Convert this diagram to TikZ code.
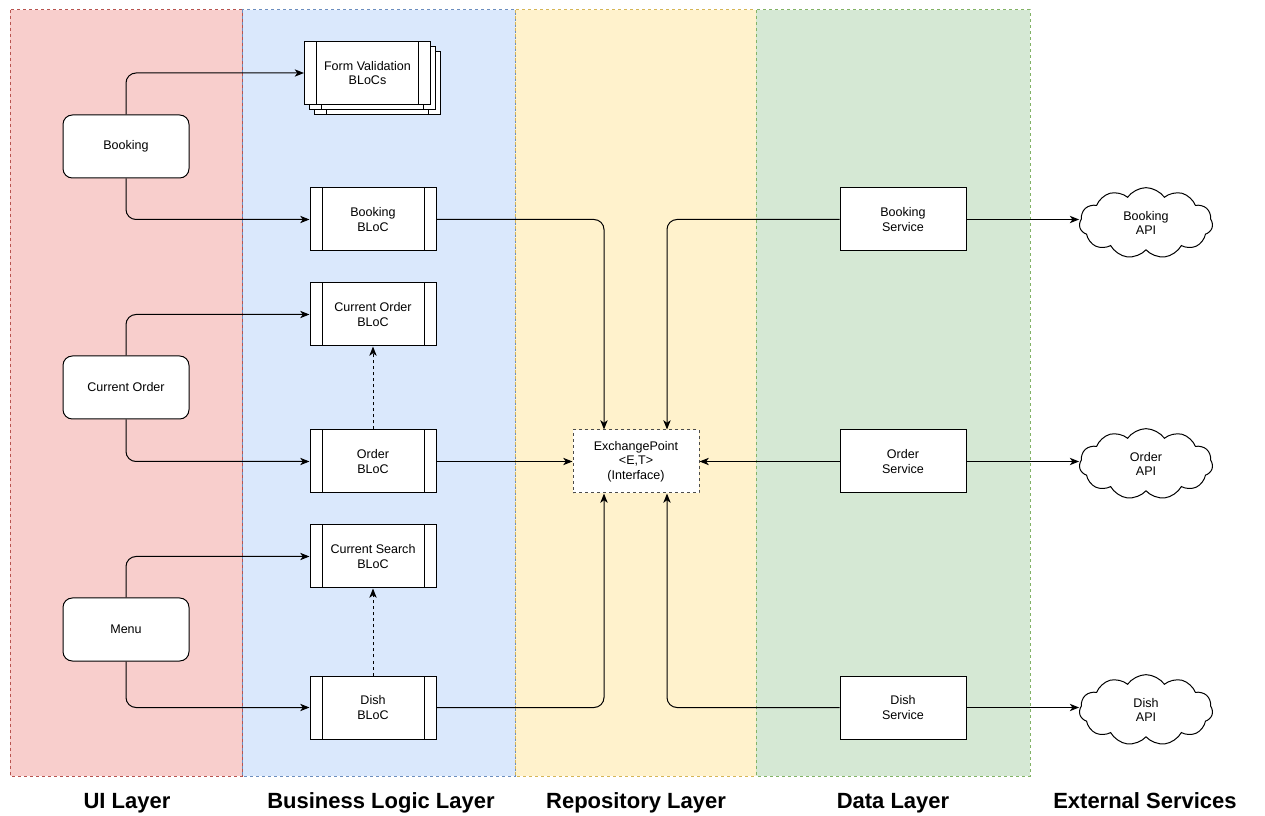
\documentclass[tikz,border=0pt]{standalone}
\usepackage{fontspec}
\setmainfont{Liberation Sans}
\usetikzlibrary{arrows.meta,shapes.symbols}

\definecolor{uifill}{HTML}{F8CECC}
\definecolor{uiline}{HTML}{B85450}
\definecolor{blfill}{HTML}{DAE8FC}
\definecolor{blline}{HTML}{6C8EBF}
\definecolor{repofill}{HTML}{FFF2CC}
\definecolor{repoline}{HTML}{D6B656}
\definecolor{datafill}{HTML}{D5E8D4}
\definecolor{dataline}{HTML}{82B366}

\tikzset{
	layer/.style={line width=0.75pt,dash pattern=on 2.25pt off 2.25pt},
	heading/.style={anchor=base,font=\fontsize{16.5}{19}\selectfont\bfseries},
	box/.style={draw,fill=white,line width=0.75pt,minimum width=94.5pt,minimum height=47.25pt,
		align=center,font=\fontsize{9.4}{10.8}\selectfont,inner sep=1pt},
	uibox/.style={box,rounded corners=7pt},
	blocbox/.style={box,path picture={
		\draw[line width=0.75pt] ([xshift=9pt]path picture bounding box.north west) -- ([xshift=9pt]path picture bounding box.south west);
		\draw[line width=0.75pt] ([xshift=-9pt]path picture bounding box.north east) -- ([xshift=-9pt]path picture bounding box.south east);}},
	ifacebox/.style={box,draw=black!70,dash pattern=on 2.25pt off 2.25pt},
	apicloud/.style={cloud,cloud puffs=11,cloud puff arc=110,aspect=2,draw,fill=white,line width=0.75pt,
		minimum width=100pt,minimum height=53pt,align=center,font=\fontsize{9.4}{10.8}\selectfont,inner sep=0pt},
	flow/.style={line width=0.75pt,rounded corners=7.5pt,-{Stealth[length=7pt,width=5.5pt,inset=2pt]}},
	flowdash/.style={flow,dash pattern=on 2.25pt off 2.25pt}
}

\begin{document}
\begin{tikzpicture}[x=0.75pt,y=-0.75pt]
	\useasboundingbox (0,0) rectangle (1265,816);
	
	% layers
	\fill[uifill] (10,10) rectangle (242,776);
	\fill[blfill] (242,10) rectangle (515,776);
	\fill[repofill] (515,10) rectangle (756,776);
	\fill[datafill] (756,10) rectangle (1030,776);
	\draw[layer,draw=uiline] (10,10) rectangle (242,776);
	\draw[layer,draw=blline] (242,10) rectangle (515,776);
	\draw[layer,draw=repoline] (515,10) rectangle (756,776);
	\draw[layer,draw=dataline] (756,10) rectangle (1030,776);
	
	\node (uihead) at (127,808) [heading] {UI Layer};
	\node (blhead) at (381,808) [heading] {Business Logic Layer};
	\node (repohead) at (636,808) [heading] {Repository Layer};
	\node (datahead) at (893,808) [heading] {Data Layer};
	\node (exthead) at (1145,808) [heading] {External Services};
	
	% UI
	\node (bookui) at (126,146.5) [uibox] {Booking};
	\node (orderui) at (126,387.5) [uibox] {Current Order};
	\node (menuui) at (126,629.5) [uibox] {Menu};
	
	% business logic
	\node (formc) at (377.5,83) [blocbox] {};
	\node (formb) at (372.5,78) [blocbox] {};
	\node (forma) at (367.5,73) [blocbox] {Form Validation\\BLoCs};
	\node (bookbloc) at (373,219.5) [blocbox] {Booking\\BLoC};
	\node (curorderbloc) at (373,314.5) [blocbox] {Current Order\\BLoC};
	\node (orderbloc) at (373,461.5) [blocbox] {Order\\BLoC};
	\node (searchbloc) at (373,556.5) [blocbox] {Current Search\\BLoC};
	\node (dishbloc) at (373,707.5) [blocbox] {Dish\\BLoC};
	
	% repository
	\node (exch) at (636,461.5) [ifacebox] {ExchangePoint\\<E,T>\\(Interface)};
	
	% data
	\node (booksvc) at (903,219.5) [box] {Booking\\Service};
	\node (ordersvc) at (903,461.5) [box] {Order\\Service};
	\node (dishsvc) at (903,707.5) [box] {Dish\\Service};
	
	% external
	\node (bookapi) at (1146,223) [apicloud] {Booking\\API};
	\node (orderapi) at (1146,464) [apicloud] {Order\\API};
	\node (dishapi) at (1146,710) [apicloud] {Dish\\API};
	
	\draw[flow] (bookui.north) |- (forma.west);
	\draw[flow] (bookui.south) |- (bookbloc.west);
	\draw[flow] (orderui.north) |- (curorderbloc.west);
	\draw[flow] (orderui.south) |- (orderbloc.west);
	\draw[flow] (menuui.north) |- (searchbloc.west);
	\draw[flow] (menuui.south) |- (dishbloc.west);
	
	\draw[flowdash] (orderbloc.north) -- (curorderbloc.south);
	\draw[flowdash] (dishbloc.north) -- (searchbloc.south);
	
	\draw[flow] (bookbloc.east) -| ([xshift=-24pt]exch.north);
	\draw[flow] (orderbloc.east) -- (exch.west);
	\draw[flow] (dishbloc.east) -| ([xshift=-24pt]exch.south);
	\draw[flow] (booksvc.west) -| ([xshift=23.25pt]exch.north);
	\draw[flow] (ordersvc.west) -- (exch.east);
	\draw[flow] (dishsvc.west) -| ([xshift=23.25pt]exch.south);
	
	\draw[flow] (booksvc.east) -- (booksvc.east -| bookapi.west);
	\draw[flow] (ordersvc.east) -- (ordersvc.east -| orderapi.west);
	\draw[flow] (dishsvc.east) -- (dishsvc.east -| dishapi.west);
\end{tikzpicture}
\end{document}
